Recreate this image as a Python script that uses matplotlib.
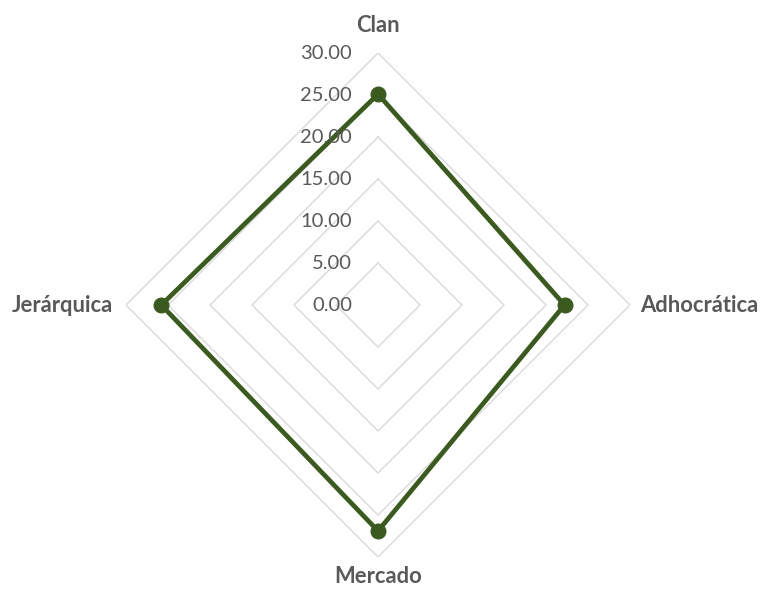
import numpy as np
import matplotlib
matplotlib.use("Agg")
import matplotlib.pyplot as plt

# Culture profile scores (OCAI quadrants)
categories = ["Clan", "Adhocrática", "Mercado", "Jerárquica"]
scores = [25.1, 22.2, 26.9, 25.8]
ring_values = [5, 10, 15, 20, 25, 30]
tick_values = [0, 5, 10, 15, 20, 25, 30]
tick_labels = ["0.00", "5.00", "10.00", "15.00", "20.00", "25.00", "30.00"]

LINE = "#3b5a1f"
GRID = "#d9d9d9"
TEXT = "#595959"
FONT = ["Lato", "DejaVu Sans"]

fig = plt.figure(figsize=(7.6, 5.89), dpi=100)
ax = fig.add_axes([0.1658, 0.0543, 0.6632, 0.8557], projection="polar")
ax.set_theta_zero_location("N")
ax.set_theta_direction(-1)
ax.set_ylim(0, 30)
ax.grid(False)
ax.spines["polar"].set_visible(False)
ax.set_xticks([])
ax.set_yticks([])
ax.patch.set_alpha(0)

angles = np.linspace(0, 2 * np.pi, len(categories), endpoint=False)
closed = np.concatenate([angles, angles[:1]])

# polygon rings
for rv in ring_values:
    ax.plot(closed, [rv] * len(closed), color=GRID, lw=1.0, zorder=1)

# data series
vals = scores + scores[:1]
ax.plot(closed, vals, color=LINE, lw=3.4, zorder=3, solid_joinstyle="miter")
ax.plot(angles, scores, "o", color=LINE, ms=10.5, zorder=4)

# radial value labels
for v, lab in zip(tick_values, tick_labels):
    ax.annotate(lab, xy=(0, v), xytext=(-26 * 0.72, 0), textcoords="offset points",
                ha="right", va="center", fontsize=14.5, color=TEXT, family=FONT,
                zorder=5)

# category labels
label_pos = [
    (33.3, "center", "center"),
    (31.2, "left", "center"),
    (32.3, "center", "center"),
    (31.6, "right", "center"),
]
for a, name, (r, ha, va) in zip(angles, categories, label_pos):
    ax.text(a, r, name, ha=ha, va=va, fontsize=15.8, fontweight="bold",
            color=TEXT, family=FONT, clip_on=False)

fig.savefig("out.png", dpi=100)
